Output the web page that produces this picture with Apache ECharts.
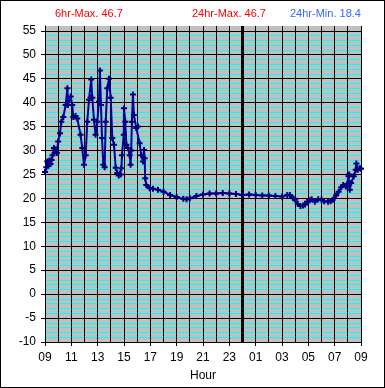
<!DOCTYPE html>
<html>
<head>
<meta charset="utf-8">
<script src="https://cdn.jsdelivr.net/npm/echarts@6/dist/echarts.min.js"></script>
<style>
html,body{margin:0;padding:0;background:#fff;}
#wrap{position:relative;width:385px;height:388px;}
#chart{width:385px;height:388px;}
#frame{position:absolute;left:0;top:0;width:385px;height:388px;box-sizing:border-box;border:1px solid #000;pointer-events:none;}
</style>
</head>
<body>
<div id="wrap"><div id="chart"></div><div id="frame"></div></div>
<script>
// hours elapsed since 09:00
const hours = [0,0.1,0.17,0.25,0.33,0.42,0.5,0.57,0.68,0.78,0.9,1.0,1.14,1.24,1.39,1.57,1.7,1.75,1.95,2.07,2.15,2.32,2.45,2.7,2.83,2.96,3.09,3.21,3.34,3.46,3.51,3.59,3.72,3.84,3.97,4.1,4.17,4.25,4.33,4.43,4.53,4.61,4.73,4.86,4.99,5.11,5.24,5.37,5.49,5.6,5.75,5.8,5.85,5.98,6.0,6.1,6.18,6.3,6.43,6.5,6.55,6.6,6.68,6.75,6.93,7.06,7.19,7.31,7.44,7.52,7.57,7.61,7.69,7.95,8.2,8.58,9.0,9.5,10.0,10.5,10.75,11.0,11.5,12.0,12.5,13.0,13.5,14.0,14.5,15.0,15.5,16.0,16.5,17.0,17.5,18.0,18.4,18.6,18.85,19.0,19.2,19.4,19.6,19.75,19.9,20.1,20.25,20.5,20.75,21.0,21.2,21.5,21.7,21.85,22.1,22.3,22.5,22.65,22.85,22.95,23.05,23.1,23.15,23.25,23.45,23.6,23.65,23.75,23.9,24];
const temps = [25.5,26.5,27.7,26.8,27.9,27.2,28.0,29.0,30.5,30.2,29.5,31.9,33.6,36.0,37.0,39.5,43.0,39.5,41.3,39.5,37.0,37.2,36.7,33.3,30.5,27.0,29.0,36.0,40.6,41.0,44.8,41.0,36.4,33.3,36.0,40.2,46.7,39.5,32.6,27.0,26.5,36.0,43.0,45.0,41.0,32.6,31.2,26.4,25.3,24.8,25.0,26.3,29.0,33.3,38.8,36.0,31.2,30.5,29.0,27.0,30.0,36.0,41.7,37.4,34.7,35.0,31.5,29.0,27.7,30.1,28.4,24.2,22.8,22.1,22.0,21.8,21.4,20.7,20.3,19.9,19.8,20.0,20.5,20.8,21.0,21.0,21.1,21.0,20.9,20.7,20.8,20.7,20.6,20.6,20.5,20.4,20.7,20.7,20.0,19.7,18.8,18.4,18.5,18.7,19.3,19.6,19.8,19.3,19.8,19.7,19.4,19.3,19.4,19.7,20.6,21.4,22.3,22.8,22.5,23.0,24.6,25.0,21.8,23.2,24.6,26.0,27.3,26.0,26.3,26.2];
const hourTickPositions = [0,2,4,6,8,10,12,14,16,18,20,22,24];
const hourLabels = ['09','11','13','15','17','19','21','23','01','03','05','07','09'];
const hourGridLines = [1,2,3,4,5,6,7,8,9,10,11,12,13,14,16,17,18,19,20,21,22,23,24];
const tempTicks = [-10,-5,0,5,10,15,20,25,30,35,40,45,50,55];
const midnight = 15;
const titleTexts = ['6hr-Max. 46.7','24hr-Max. 46.7','24hr-Min. 18.4'];

const yMin = -10, yMax = 56, xMin = 0, xMax = 24;
const gridColors = [];
for (let v = yMin; v <= yMax; v++) {
  gridColors.push(v === yMax ? 'rgba(0,0,0,0)' : (v % 5 === 0 ? '#000000' : '#00ffff'));
}
const FONT = 'Liberation Sans, Arial, sans-serif';
const chart = echarts.init(document.getElementById('chart'), null, {renderer:'canvas'});
chart.setOption({
  animation:false,
  backgroundColor:'#ffffff',
  textStyle:{fontFamily:FONT},
  title:[
    {text:titleTexts[0], left:55, top:8, padding:0, textStyle:{color:'#ff0000', fontSize:11, fontWeight:'normal', fontFamily:FONT}},
    {text:titleTexts[1], left:192, top:8, padding:0, textStyle:{color:'#ff0000', fontSize:11, fontWeight:'normal', fontFamily:FONT}},
    {text:titleTexts[2], left:290, top:8, padding:0, textStyle:{color:'#3366ff', fontSize:11, fontWeight:'normal', fontFamily:FONT}}
  ],
  grid:{left:45, right:24, top:26, bottom:46, show:true, backgroundColor:'#c0c0c0', borderWidth:0, containLabel:false},
  xAxis:[{
    type:'value', min:xMin, max:xMax, position:'bottom',
    name:'Hour', nameLocation:'middle', nameGap:28,
    nameTextStyle:{color:'#000', fontSize:12, fontFamily:FONT},
    axisLine:{show:true, onZero:false, lineStyle:{color:'#000', width:1}},
    axisTick:{show:true, customValues:hourTickPositions, length:4, lineStyle:{color:'#000'}},
    axisLabel:{show:true, customValues:hourTickPositions, color:'#000', fontSize:12, margin:10, fontFamily:FONT,
      formatter:function(v){ const i = hourTickPositions.indexOf(v); return i >= 0 ? hourLabels[i] : ''; }},
    splitLine:{show:false}
  },{
    // midnight marker tick below axis
    type:'value', min:xMin, max:xMax, position:'bottom',
    axisLine:{show:false},
    axisTick:{show:true, customValues:[midnight], length:11, lineStyle:{color:'#000', width:3}},
    axisLabel:{show:false},
    splitLine:{show:false}
  }],
  yAxis:[{
    type:'value', min:yMin, max:yMax, interval:1, position:'left',
    axisLine:{show:false}, axisTick:{show:false}, axisLabel:{show:false},
    splitLine:{show:true, lineStyle:{color:gridColors, width:1}}
  },{
    type:'value', min:yMin, max:yMax, position:'left', z:3,
    axisLine:{show:true, onZero:false, lineStyle:{color:'#000', width:1}},
    axisTick:{show:true, customValues:tempTicks, length:4, lineStyle:{color:'#000'}},
    axisLabel:{customValues:tempTicks, color:'#000', fontSize:12, margin:9, fontFamily:FONT},
    splitLine:{show:false}
  }],
  series:[{
    // hourly vertical grid lines, positioned through the x scale
    type:'custom', z:1, silent:true, xAxisIndex:0, yAxisIndex:0,
    data:hourGridLines.map(h=>[h, yMin]),
    encode:{x:0, y:1},
    renderItem:function(params, api){
      const a = api.coord([api.value(0), yMin]);
      const b = api.coord([api.value(0), yMax]);
      const x = Math.round(a[0] - 0.5) + 0.5;
      return {type:'line', shape:{x1:x, y1:a[1], x2:x, y2:b[1]}, style:{stroke:'#000', lineWidth:1}};
    }
  },{
    type:'line', z:5,
    xAxisIndex:0, yAxisIndex:0,
    data:hours.map((h,i)=>[h, temps[i]]),
    symbol:'path://M-1,-3H1V-1H3V1H1V3H-1V1H-3V-1H-1Z',
    symbolSize:6,
    itemStyle:{color:'#000080'},
    lineStyle:{color:'#000099', width:2},
    markLine:{
      silent:true, symbol:'none', label:{show:false},
      lineStyle:{color:'#000', width:3, type:'solid'},
      data:[{xAxis:midnight}]
    }
  }]
});
</script>
</body>
</html>
